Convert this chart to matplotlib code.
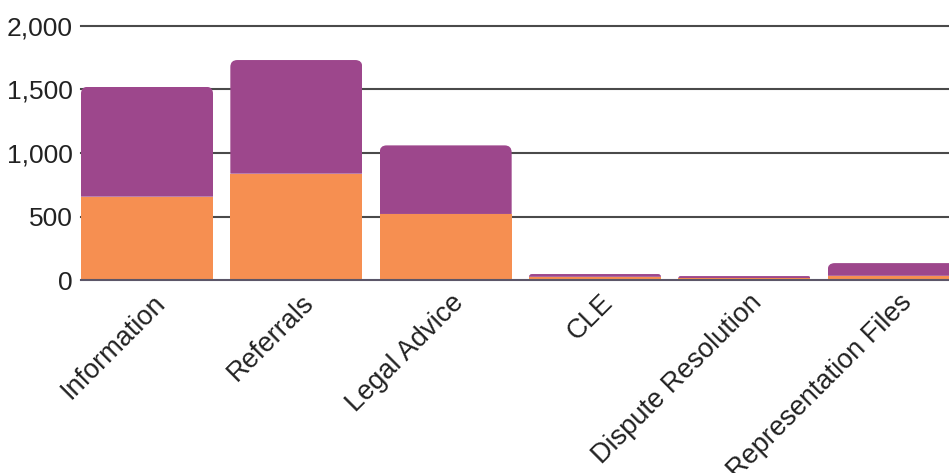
import matplotlib
matplotlib.use("Agg")
import matplotlib.pyplot as plt
from matplotlib.path import Path
from matplotlib.patches import PathPatch
from matplotlib.transforms import offset_copy

categories = ['Information', 'Referrals', 'Legal Advice', 'CLE',
              'Dispute Resolution', 'Representation Files']
series_bottom = [656, 837, 520, 25, 15, 33]
series_top = [866, 895, 540, 22, 16, 100]
y_ticks = [0, 500, 1000, 1500, 2000]
y_tick_labels = ['0', '500', '1,000', '1,500', '2,000']

ORANGE = '#F68F51'
PURPLE = '#9D478C'
GRID = '#4a4a4a'
TEXT = '#222222'

W, H, DPI = 949, 473, 100
plt.rcParams['font.family'] = ['Liberation Sans', 'DejaVu Sans']

fig = plt.figure(figsize=(W / DPI, H / DPI), dpi=DPI)
ax_left_px, ax_right_px = 81, 949
ax_top_px, ax_bot_px = 26, 280
ax = fig.add_axes([ax_left_px / W, (H - ax_bot_px) / H,
                   (ax_right_px - ax_left_px) / W, (ax_bot_px - ax_top_px) / H])

bar_w = 0.884
pitch_px = 149.33
x = list(range(len(categories)))
xlim = (-bar_w / 2, -bar_w / 2 + (ax_right_px - ax_left_px) / pitch_px)
ax.set_xlim(*xlim)
ax.set_ylim(0, 2000)

for t in y_ticks[1:]:
    ax.axhline(t, color=GRID, lw=1.5, zorder=0, clip_on=False)

ax.bar(x, series_bottom, width=bar_w, color=ORANGE, zorder=2, linewidth=0)
tops = ax.bar(x, series_top, width=bar_w, bottom=series_bottom, color=PURPLE,
              zorder=2, linewidth=0)

# rounded top corners (radius in pixels)
px_per_x = pitch_px
px_per_y = (ax_bot_px - ax_top_px) / 2000.0
r_px = 7.0
for rect in tops:
    x0 = rect.get_x(); x1 = x0 + rect.get_width()
    y0 = rect.get_y(); y1 = y0 + rect.get_height()
    h_px = rect.get_height() * px_per_y
    r = min(r_px, h_px)
    rx = r / px_per_x
    ry = r / px_per_y
    verts = [(x0, y0), (x1, y0), (x1, y1 - ry), (x1, y1), (x1 - rx, y1),
             (x0 + rx, y1), (x0, y1), (x0, y1 - ry), (x0, y0)]
    codes = [Path.MOVETO, Path.LINETO, Path.LINETO, Path.CURVE3, Path.CURVE3,
             Path.LINETO, Path.CURVE3, Path.CURVE3, Path.CLOSEPOLY]
    clip = PathPatch(Path(verts, codes), transform=ax.transData)
    rect.set_clip_path(clip)

ax.axhline(0, color='#5c5668', lw=1.5, zorder=3, clip_on=False)

for s in ax.spines.values():
    s.set_visible(False)
ax.set_yticks(y_ticks)
ax.set_yticklabels(y_tick_labels, fontsize=19, color=TEXT)
ax.tick_params(axis='y', length=0, pad=6)
ax.set_xticks([])

for i, lab in enumerate(categories):
    tr = offset_copy(ax.transData, fig=fig, x=14, y=-19, units='dots')
    ax.text(i, 0, lab, transform=tr, rotation=45, ha='right', va='center',
            rotation_mode='anchor', fontsize=19.5, color=TEXT, clip_on=False)

fig.savefig('out.png', dpi=DPI)
